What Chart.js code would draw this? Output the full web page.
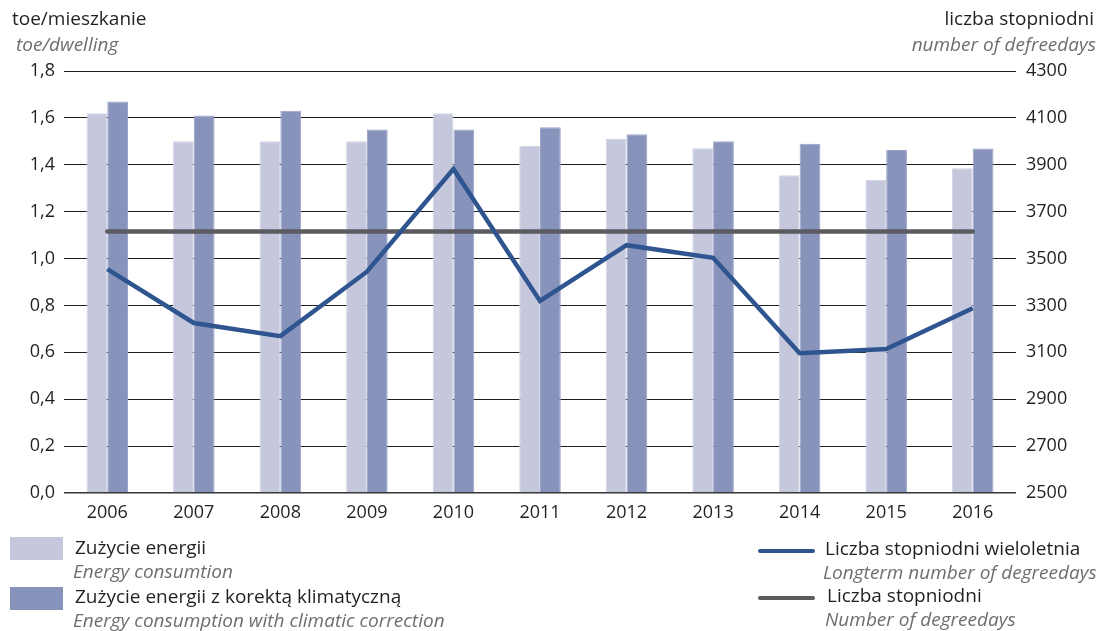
<!DOCTYPE html>
<html>
<head>
<meta charset="utf-8">
<script src="https://cdn.jsdelivr.net/npm/chart.js@4"></script>
<style>
  body { margin: 0; background: #fff; }
  #wrap { position: relative; width: 1104px; height: 631px; font-family: "Open Sans", sans-serif; color: #231f20; }
  #chart { position: absolute; left: 0; top: 0; }
  .t { position: absolute; font-size: 19px; white-space: nowrap; line-height: 1; }
  .it { font-style: italic; color: #6d6e71; }
  .sw { position: absolute; width: 53px; height: 23px; }
  .ln { position: absolute; width: 57px; height: 4px; border-radius: 2px; }
</style>
</head>
<body>
<div id="wrap">
  <canvas id="chart" width="1104" height="631"></canvas>
  <div class="t" style="left:12px; top:9px;">toe/mieszkanie</div>
  <div class="t it" style="left:16px; top:35px;">toe/dwelling</div>
  <div class="t" style="right:10px; top:9px;">liczba stopniodni</div>
  <div class="t it" style="right:8px; top:35px;">number of defreedays</div>
  <div id="legend"></div>
</div>
<script>
const years = ["2006", "2007", "2008", "2009", "2010", "2011", "2012", "2013", "2014", "2015", "2016"];
const energyUse = [1.62, 1.50, 1.50, 1.50, 1.62, 1.48, 1.51, 1.47, 1.355, 1.335, 1.385];
const energyCorrected = [1.67, 1.61, 1.63, 1.55, 1.55, 1.56, 1.53, 1.50, 1.49, 1.463, 1.469];
const degreeDaysBlue = [3455, 3225, 3169, 3444, 3882, 3319, 3557, 3503, 3096, 3114, 3288];
const degreeDaysGray = [3615, 3615, 3615, 3615, 3615, 3615, 3615, 3615, 3615, 3615, 3615];
const leftTicks = [0, 0.2, 0.4, 0.6, 0.8, 1.0, 1.2, 1.4, 1.6, 1.8];
const rightTicks = [2500, 2700, 2900, 3100, 3300, 3500, 3700, 3900, 4100, 4300];

const labelsPl = ["Zużycie energii", "Zużycie energii z korektą klimatyczną", "Liczba stopniodni wieloletnia", "Liczba stopniodni"];
const labelsEn = ["Energy consumtion", "Energy consumption with climatic correction", "Longterm number of degreedays", "Number of degreedays"];

const colLight = "#c5c7dd";
const colDark = "#8893bb";
const colBlue = "#2f5590";
const colGray = "#5b5b60";

const tickFont = { family: "Open Sans", size: 18 };

new Chart(document.getElementById("chart"), {
    type: "bar",
    data: {
        labels: years,
        datasets: [
            {
                type: "line",
                label: labelsPl[2],
                data: degreeDaysBlue,
                yAxisID: "y2",
                borderColor: colBlue,
                borderWidth: 4.5,
                pointRadius: 0,
                tension: 0,
                order: 0
            },
            {
                type: "line",
                label: labelsPl[3],
                data: degreeDaysGray,
                yAxisID: "y2",
                borderColor: colGray,
                borderWidth: 4.5,
                borderCapStyle: "round",
                pointRadius: 0,
                order: 1
            },
            {
                label: labelsPl[0],
                data: energyUse,
                yAxisID: "y",
                backgroundColor: colLight,
                borderColor: "#d3d5e6",
                borderWidth: 1,
                categoryPercentage: 0.48,
                barPercentage: 1.0,
                order: 2
            },
            {
                label: labelsPl[1],
                data: energyCorrected,
                yAxisID: "y",
                backgroundColor: colDark,
                borderColor: "#9ba3c7",
                borderWidth: 1,
                categoryPercentage: 0.48,
                barPercentage: 1.0,
                order: 2
            }
        ]
    },
    options: {
        responsive: false,
        animation: false,
        layout: { padding: { top: 71, left: 0, right: 0, bottom: 0 } },
        plugins: {
            legend: { display: false },
            tooltip: { enabled: false }
        },
        scales: {
            x: {
                grid: { display: false, drawTicks: false },
                border: { display: false },
                ticks: { font: tickFont, color: "#231f20", padding: 9 },
                afterFit: (s) => { s.height = 138; }
            },
            y: {
                position: "left",
                min: 0,
                max: 1.8,
                afterBuildTicks: (s) => { s.ticks = leftTicks.map(v => ({ value: v })); },
                grid: {
                    color: (c) => c.tick && c.tick.value === 0 ? "#333" : "#1e1e1e",
                    lineWidth: (c) => c.tick && c.tick.value === 0 ? 1.5 : 1,
                    drawTicks: false
                },
                border: { display: false },
                ticks: {
                    font: tickFont,
                    color: "#231f20",
                    padding: 9,
                    callback: (v) => Number(v).toFixed(1).replace(".", ",")
                },
                afterFit: (s) => { s.width = 64; }
            },
            y2: {
                position: "right",
                min: 2500,
                max: 4300,
                afterBuildTicks: (s) => { s.ticks = rightTicks.map(v => ({ value: v })); },
                grid: { display: false, drawTicks: false },
                border: { display: false },
                ticks: {
                    font: tickFont,
                    color: "#231f20",
                    padding: 10,
                    callback: (v) => String(v)
                },
                afterFit: (s) => { s.width = 88; }
            }
        }
    }
});

// legenda pod wykresem
const legend = document.getElementById("legend");
const legendItems = [
    { kind: "sw", color: colLight, x: 10, y: 537, tx: 75, ty: 538 },
    { kind: "sw", color: colDark, x: 10, y: 587, tx: 75, ty: 587 },
    { kind: "ln", color: colBlue, x: 758, y: 549, tx: 825, ty: 539 },
    { kind: "ln", color: colGray, x: 758, y: 596, tx: 827, ty: 586 }
];
legendItems.forEach((it, i) => {
    const m = document.createElement("div");
    m.className = it.kind;
    m.style.left = it.x + "px";
    m.style.top = it.y + "px";
    m.style.background = it.color;
    legend.appendChild(m);
    const a = document.createElement("div");
    a.className = "t";
    a.style.left = it.tx + "px";
    a.style.top = it.ty + "px";
    a.textContent = labelsPl[i];
    legend.appendChild(a);
    const b = document.createElement("div");
    b.className = "t it";
    b.style.left = (it.tx - 2) + "px";
    b.style.top = (it.ty + 24) + "px";
    b.textContent = labelsEn[i];
    legend.appendChild(b);
});
</script>
</body>
</html>
